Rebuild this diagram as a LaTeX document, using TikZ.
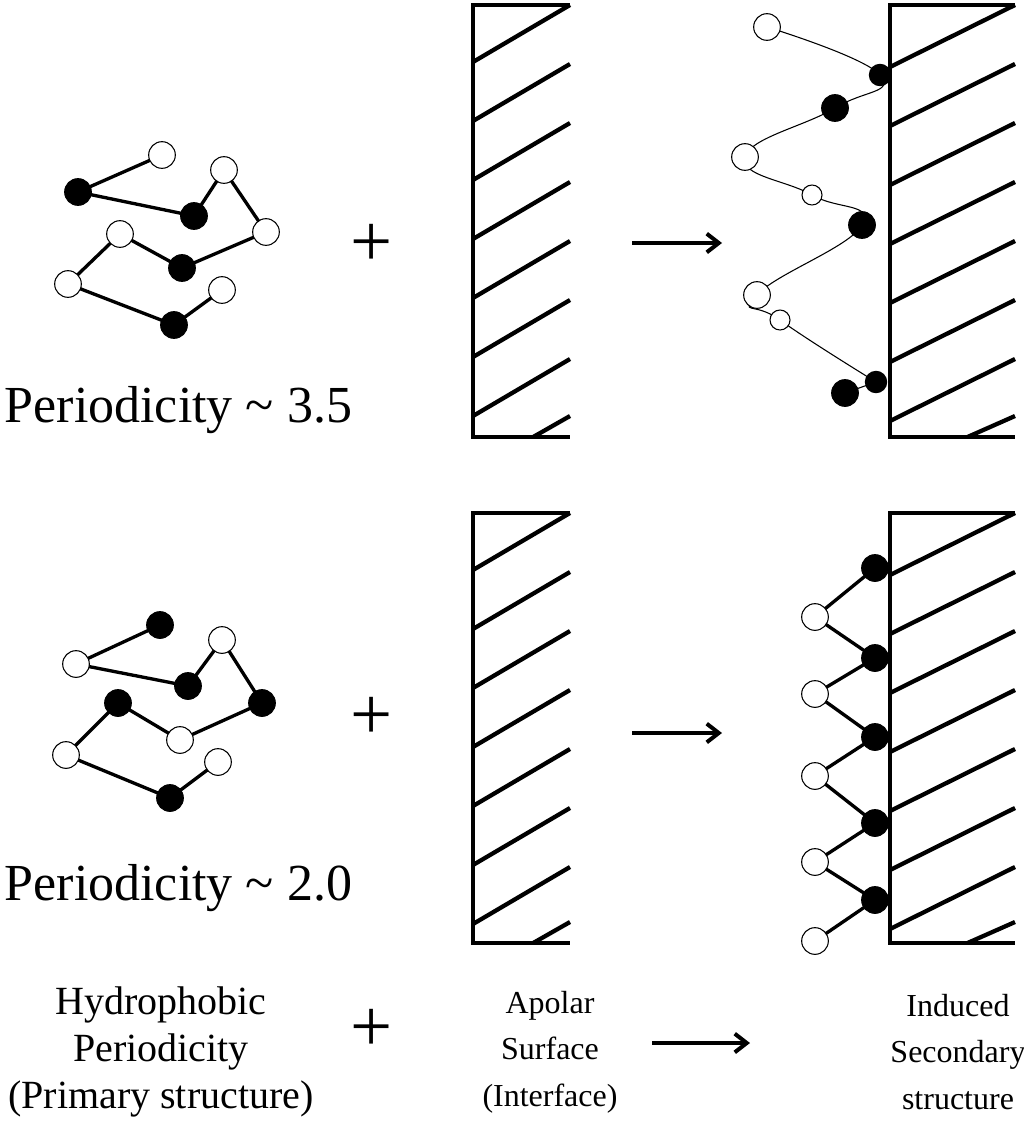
\documentclass[tikz,border=0pt]{standalone}
\usepackage{fontspec}
\setmainfont{Liberation Serif}
\usetikzlibrary{arrows.meta}
\tikzset{
  hyd/.style={circle, draw, thick, fill=black, minimum size=20pt, inner sep=0pt},
  pol/.style={circle, draw, thick, fill=white, minimum size=20pt, inner sep=0pt},
  hyds/.style={circle, draw, thick, fill=black, minimum size=16pt, inner sep=0pt},
  pols/.style={circle, draw, thick, fill=white, minimum size=15pt, inner sep=0pt},
  bond/.style={line width=2.5pt},
  reacts/.style={-{Straight Barb[length=9pt, width=14pt, line width=3pt]}, line width=3pt},
  label/.style={align=center, font=\fontsize{30}{35}\selectfont},
  labelsm/.style={align=center, font=\fontsize{24}{35}\selectfont},
  big/.style={anchor=base west, font=\fontsize{39}{44}\selectfont},
  plus/.style={font=\fontsize{56}{56}\selectfont},
}
\newcommand{\wallbox}[5]{% x left, y top, width, height, drop
  \draw[line width=3.5pt] (#1+#3,#2)--(#1,#2)--(#1,#2+#4)--(#1+#3,#2+#4);
  \foreach \k in {0,...,6}
    \draw[line width=3.2pt] (#1,#2+#5+59*\k)--(#1+#3,#2+59*\k);
  \draw[line width=3.2pt] (#1+0.62*#3,#2+#4)--(#1+#3,#2+#4-21);
}
\begin{document}
\begin{tikzpicture}[x=0.75pt, y=-0.75pt]
\useasboundingbox (0,0) rectangle (1024,1121);
% first molecule
\draw[bond] (162,155)--(78,192)--(194,216)--(224,170)--(266,232)--(182,268)--(120,234)--(68,284)--(174,325)--(222,290);
\foreach \p/\n in {162/155, 224/170, 266/232, 120/234, 68/284, 222/290} \node[pol] at (\p,\n) {};
\foreach \p/\n in {78/192, 194/216, 182/268, 174/325} \node[hyd] at (\p,\n) {};
\node[big] (per1) at (0,422) {Periodicity \textasciitilde\ 3.5};
\node[plus] (plus1) at (372,245) {+};
\wallbox{473}{5}{97}{432}{57}
\draw[reacts] (632,243)--(722,243);
\wallbox{890}{5}{125}{432}{62}
% induced helix
\draw[line width=0.8pt] plot[smooth, tension=0.8] coordinates {(767,27) (880,75) (835,108) (745,157) (812,195) (862,225) (757,295) (780,320) (876,382)};
\draw[line width=0.8pt] (845,393)--(876,382);
\foreach \p/\n in {767/27, 745/157, 757/295} \node[pol] at (\p,\n) {};
\foreach \p/\n in {812/195, 780/320} \node[pols] at (\p,\n) {};
\foreach \p/\n in {835/108, 862/225, 845/393} \node[hyd] at (\p,\n) {};
\foreach \p/\n in {880/75, 876/382} \node[hyds] at (\p,\n) {};
% second molecule
\draw[bond] (160,625)--(76,664)--(188,686)--(222,640)--(262,703)--(180,740)--(118,703)--(66,755)--(170,798)--(218,762);
\foreach \p/\n in {76/664, 222/640, 180/740, 66/755, 218/762} \node[pol] at (\p,\n) {};
\foreach \p/\n in {160/625, 188/686, 262/703, 118/703, 170/798} \node[hyd] at (\p,\n) {};
\node[big] (per2) at (0,900) {Periodicity \textasciitilde\ 2.0};
\node[plus] (plus2) at (372,718) {+};
\wallbox{473}{513}{97}{430}{57}
\draw[reacts] (632,733)--(722,733);
\wallbox{890}{513}{125}{430}{62}
% induced strand
\draw[bond] (875,568)--(815,617)--(875,658)--(815,694)--(875,737)--(815,776)--(875,823)--(815,862)--(875,900)--(815,941);
\foreach \n in {617,694,776,862,941} \node[pol] at (815,\n) {};
\foreach \n in {568,658,737,823,900} \node[hyd] at (875,\n) {};
% legend
\node[label] (lhyd) at (161,1052) {Hydrophobic\\Periodicity\\(Primary structure)};
\node[plus] (plus3) at (372,1030) {+};
\node[labelsm] (lapo) at (550,1052) {Apolar\\Surface\\(Interface)};
\draw[reacts] (652,1043)--(750,1043);
\node[labelsm] (lind) at (958,1052) {Induced\\Secondary\\structure};
\end{tikzpicture}
\end{document}
